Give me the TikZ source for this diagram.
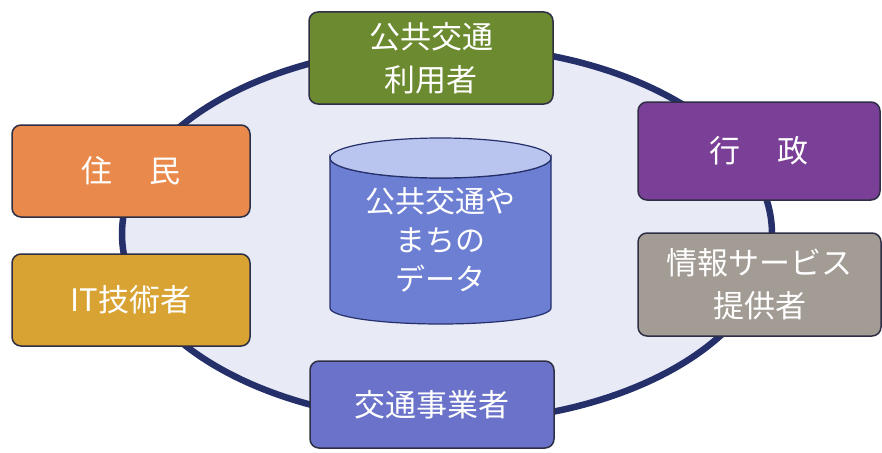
\documentclass[tikz,border=0pt]{standalone}
\usepackage{fontspec}
\setmainfont{Noto Sans CJK JP}
\definecolor{ringc}{HTML}{25306A}
\definecolor{ringfill}{HTML}{E8EAF6}
\definecolor{cgreen}{HTML}{6C8A2F}
\definecolor{corange}{HTML}{E98A4C}
\definecolor{cgold}{HTML}{D9A334}
\definecolor{cpurple}{HTML}{7A3F96}
\definecolor{cgray}{HTML}{A39C95}
\definecolor{cblue}{HTML}{6A73C9}
\definecolor{cylbody}{HTML}{6D7FD3}
\definecolor{cyltop}{HTML}{BAC5EF}
\definecolor{edgec}{HTML}{2E2E45}
\begin{document}
\begin{tikzpicture}[x=1pt,y=-1pt,
  actor/.style={draw=edgec, line width=1.5pt, rounded corners=9pt, text=white,
    align=center, inner sep=0pt, font=\fontsize{31}{43}\selectfont},
  ring/.style={draw=ringc, line width=6.5pt, fill=ringfill}]
\useasboundingbox (0,0) rectangle (882,452);
\fill[white] (0,0) rectangle (882,452);
% ring
\draw[ring] (447,234) ellipse [x radius=325, y radius=188];
% cylinder
\path[fill=cylbody, draw=ringc, line width=1.2pt]
  (330,158) -- (330,308) arc[start angle=180, end angle=0, x radius=110.5, y radius=16]
  -- (551,158) arc[start angle=0, end angle=180, x radius=110.5, y radius=20] -- cycle;
\draw[fill=cyltop, draw=ringc, line width=1.2pt] (440.5,158) ellipse [x radius=110.5, y radius=20];
\node[text=white, align=center, font=\fontsize{30}{39}\selectfont] (data) at (440,240) {公共交通や\\まちの\\データ};
% actors
\node[actor, fill=cgreen, minimum width=244pt, minimum height=92pt] (user) at (431,58) {公共交通\\利用者};
\node[actor, fill=corange, minimum width=238pt, minimum height=92pt] (resident) at (131,171) {住\hspace{37pt}民};
\node[actor, fill=cgold, minimum width=238pt, minimum height=92pt] (it) at (131,300) {IT技術者};
\node[actor, fill=cpurple, minimum width=242pt, minimum height=98pt] (gov) at (759,151) {行\hspace{38pt}政};
\node[actor, fill=cgray, minimum width=243pt, minimum height=103pt] (info) at (759.5,284.5) {情報サービス\\提供者};
\node[actor, fill=cblue, minimum width=244pt, minimum height=87pt] (op) at (432,404.5) {交通事業者};
\end{tikzpicture}
\end{document}
